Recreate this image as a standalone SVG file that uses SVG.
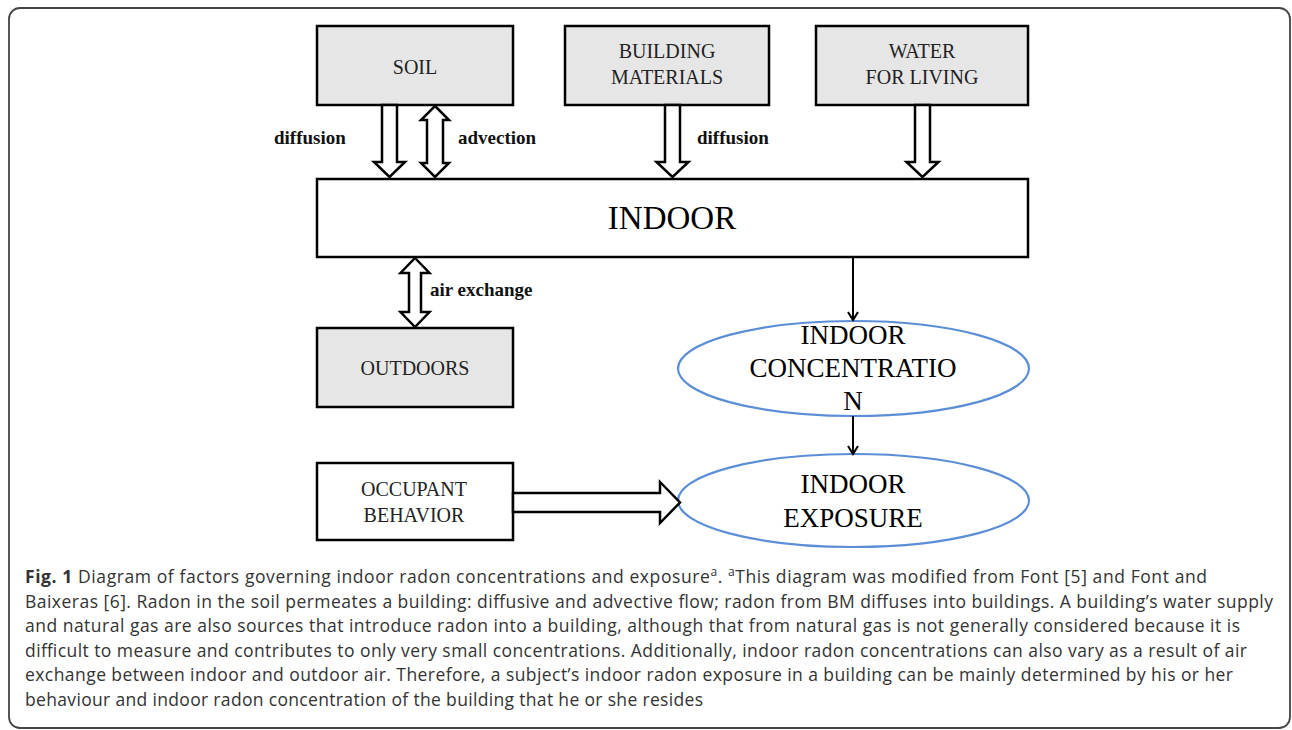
<svg xmlns="http://www.w3.org/2000/svg" width="1292" height="730" viewBox="0 0 1292 730">
<style>
.box{stroke:#000;stroke-width:2.5}
.gray{fill:#e6e6e6}
.white{fill:#fff}
.lbl{font-family:"Liberation Serif",serif;font-size:20px;fill:#222;text-anchor:middle}
.big{font-family:"Liberation Serif",serif;font-size:27px;fill:#000;text-anchor:middle}
.edge{font-family:"Liberation Serif",serif;font-size:19px;font-weight:bold;fill:#111}
.hollow{fill:#fff;stroke:#000;stroke-width:2.5;stroke-linejoin:miter}
.thin{stroke:#000;stroke-width:2;fill:none}
.ell{fill:#fff;stroke:#5b8ed6;stroke-width:2.2}
.cap{font-family:"Open Sans","Noto Sans",sans-serif;font-size:17.5px;fill:#333}
</style>
<defs>
<marker id="chev" markerWidth="12" markerHeight="12" refX="10" refY="6" orient="auto" markerUnits="userSpaceOnUse">
<path d="M2,1 L10,6 L2,11" fill="none" stroke="#000" stroke-width="2"/>
</marker>
</defs>
<rect x="9" y="8" width="1281" height="720" rx="11" fill="#fff" stroke="#444" stroke-width="1.8"/>

<g id="soil"><rect class="box gray" x="317" y="26" width="196" height="79"/><text class="lbl" x="415" y="74">SOIL</text></g>
<g id="building-materials"><rect class="box gray" x="565" y="26" width="204" height="79"/><text class="lbl" x="667" y="58">BUILDING</text><text class="lbl" x="667" y="84">MATERIALS</text></g>
<g id="water"><rect class="box gray" x="816" y="26" width="212" height="79"/><text class="lbl" x="922" y="58">WATER</text><text class="lbl" x="922" y="84">FOR LIVING</text></g>
<g id="indoor"><rect class="box white" x="317" y="179" width="711" height="78"/><text x="672" y="229" font-family="Liberation Serif,serif" font-size="33" text-anchor="middle" fill="#000">INDOOR</text></g>
<g id="outdoors"><rect class="box gray" x="317" y="328" width="196" height="79"/><text class="lbl" x="415" y="375">OUTDOORS</text></g>
<g id="occupant"><rect class="box white" x="317" y="463" width="196" height="77"/><text class="lbl" x="414" y="496">OCCUPANT</text><text class="lbl" x="414" y="522">BEHAVIOR</text></g>
<g id="indoor-concentration"><ellipse class="ell" cx="853.5" cy="368.5" rx="175.5" ry="47.5"/><text class="big" x="853" y="344">INDOOR</text><text class="big" x="853" y="377">CONCENTRATIO</text><text class="big" x="853" y="410">N</text></g>
<g id="indoor-exposure"><ellipse class="ell" cx="853.5" cy="500.5" rx="175.5" ry="46.5"/><text class="big" x="853" y="493">INDOOR</text><text class="big" x="853" y="527">EXPOSURE</text></g>

<g id="connectors">
<path class="hollow" d="M382,105 L397,105 L397,162 L405,162 L389.5,177 L374,162 L382,162 Z"/>
<path class="hollow" d="M435,106 L449,120 L443,120 L443,163 L449,163 L435,177 L421,163 L427,163 L427,120 L421,120 Z"/>
<path class="hollow" d="M665,105 L680,105 L680,162 L688.5,162 L672.5,177 L656.5,162 L665,162 Z"/>
<path class="hollow" d="M915,105 L930,105 L930,162 L938.5,162 L922.5,177 L906.5,162 L915,162 Z"/>
<path class="hollow" d="M415,258 L429.5,273 L421,273 L421,312 L429.5,312 L415,327 L400.5,312 L409,312 L409,273 L400.5,273 Z"/>
<path class="hollow" d="M513,493 L660,493 L660,482 L680,502.5 L660,523 L660,512 L513,512 Z"/>
<line class="thin" x1="853" y1="257" x2="853" y2="320" marker-end="url(#chev)"/>
<line class="thin" x1="853" y1="416" x2="853" y2="454" marker-end="url(#chev)"/>
<text class="edge" x="274" y="144">diffusion</text>
<text class="edge" x="458" y="144">advection</text>
<text class="edge" x="697" y="144">diffusion</text>
<text class="edge" x="430" y="296">air exchange</text>
</g>

<g id="caption">
<text class="cap" x="25" y="583" textLength="1182" lengthAdjust="spacing"><tspan font-weight="bold">Fig. 1</tspan> Diagram of factors governing indoor radon concentrations and exposure<tspan font-size="12" dy="-7">a</tspan><tspan dy="7">. </tspan><tspan font-size="12" dy="-7">a</tspan><tspan dy="7">This diagram was modified from Font [5] and Font and</tspan></text>
<text class="cap" x="25" y="608" textLength="1248" lengthAdjust="spacing">Baixeras [6]. Radon in the soil permeates a building: diffusive and advective flow; radon from BM diffuses into buildings. A building’s water supply</text>
<text class="cap" x="25" y="632" textLength="1215" lengthAdjust="spacing">and natural gas are also sources that introduce radon into a building, although that from natural gas is not generally considered because it is</text>
<text class="cap" x="25" y="657" textLength="1222" lengthAdjust="spacing">difficult to measure and contributes to only very small concentrations. Additionally, indoor radon concentrations can also vary as a result of air</text>
<text class="cap" x="25" y="681" textLength="1208" lengthAdjust="spacing">exchange between indoor and outdoor air. Therefore, a subject’s indoor radon exposure in a building can be mainly determined by his or her</text>
<text class="cap" x="25" y="706" textLength="678" lengthAdjust="spacing">behaviour and indoor radon concentration of the building that he or she resides</text>
</g>
</svg>
